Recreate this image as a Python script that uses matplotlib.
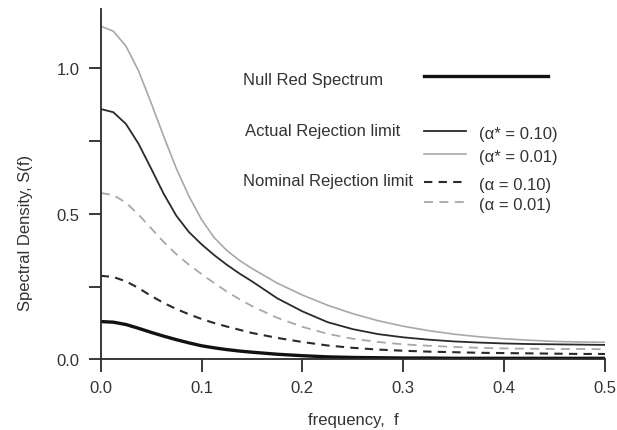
"""Red-noise spectrum with actual / nominal rejection limits."""
import matplotlib
matplotlib.use("Agg")
import matplotlib.pyplot as plt

# frequency grid the curves were read at (finer where the curves bend)
freq = [0.0, 0.0125, 0.025, 0.0375, 0.05, 0.0625, 0.075, 0.0875, 0.1,
        0.1125, 0.125, 0.1375, 0.15, 0.175, 0.2, 0.225, 0.25, 0.275, 0.3,
        0.325, 0.35, 0.375, 0.4, 0.425, 0.45, 0.475, 0.5]

null_red = [0.130, 0.128, 0.120, 0.107, 0.093, 0.080, 0.068, 0.057, 0.047,
            0.040, 0.034, 0.029, 0.025, 0.018, 0.013, 0.009, 0.007, 0.006,
            0.005, 0.005, 0.004, 0.004, 0.004, 0.004, 0.004, 0.004, 0.004]
actual_010 = [0.859, 0.848, 0.808, 0.740, 0.655, 0.568, 0.493, 0.437, 0.395,
              0.358, 0.325, 0.295, 0.268, 0.210, 0.165, 0.128, 0.104, 0.087,
              0.076, 0.068, 0.062, 0.058, 0.055, 0.053, 0.052, 0.051, 0.050]
actual_001 = [1.143, 1.126, 1.075, 0.990, 0.880, 0.765, 0.655, 0.560, 0.480,
              0.418, 0.374, 0.340, 0.312, 0.262, 0.221, 0.186, 0.157, 0.133,
              0.114, 0.099, 0.087, 0.078, 0.071, 0.066, 0.062, 0.060, 0.059]
nominal_010 = [0.287, 0.283, 0.268, 0.245, 0.218, 0.194, 0.173, 0.155, 0.139,
               0.125, 0.113, 0.102, 0.091, 0.074, 0.060, 0.048, 0.040, 0.034,
               0.030, 0.027, 0.025, 0.023, 0.022, 0.021, 0.020, 0.019, 0.019]
nominal_001 = [0.571, 0.564, 0.538, 0.497, 0.450, 0.403, 0.361, 0.325, 0.293,
               0.262, 0.233, 0.207, 0.183, 0.143, 0.112, 0.088, 0.071, 0.060,
               0.052, 0.047, 0.043, 0.040, 0.038, 0.037, 0.036, 0.036, 0.035]

x_ticks = [0.0, 0.1, 0.2, 0.3, 0.4, 0.5]
y_ticks = [0.0, 0.25, 0.5, 0.75, 1.0]
y_ticklabels = ["0.0", "", "0.5", "", "1.0"]

TXT = "#333333"
DARK = "#2a2a2a"
LIGHT = "#a8a8a8"

plt.rcParams["font.family"] = ["Liberation Sans", "DejaVu Sans"]

fig = plt.figure(figsize=(6.17, 4.31), dpi=100)
ax = fig.add_axes([0.1632, 0.1636, 0.8173, 0.8132])

ax.plot(freq, actual_001, color=LIGHT, lw=1.2)
ax.plot(freq, actual_010, color=DARK, lw=1.3)
ax.plot(freq, nominal_001, color=LIGHT, lw=1.3, dashes=(5, 3.5))
ax.plot(freq, nominal_010, color=DARK, lw=1.5, dashes=(4, 3))
ax.plot(freq, null_red, color="#111111", lw=2.4)

ax.set_xlim(0, 0.5)
ax.set_ylim(0, 1.202)
ax.set_xticks(x_ticks)
ax.set_xticklabels([f"{t:.1f}" for t in x_ticks])
ax.set_yticks(y_ticks)
ax.set_yticklabels(y_ticklabels)
for side in ("top", "right"):
    ax.spines[side].set_visible(False)
for side in ("left", "bottom"):
    ax.spines[side].set_color(DARK)
    ax.spines[side].set_linewidth(1.3)
ax.tick_params(length=9, width=1.3, color=DARK, labelcolor=TXT,
               labelsize=12, pad=6)

ax.set_xlabel("frequency,  f", fontsize=12, color=TXT, labelpad=12)
ax.set_ylabel("Spectral Density, S(f)", fontsize=12, color=TXT)
ax.yaxis.set_label_coords(-0.135, 0.365)

# hand-drawn legend, axes-fraction coordinates
tr = ax.transAxes
ax.text(0.282, 0.800, "Null Red Spectrum", transform=tr, fontsize=12,
        color=TXT, va="center")
ax.plot([0.641, 0.887], [0.809, 0.809], transform=tr, color="#111111",
        lw=2.4, clip_on=False)
ax.text(0.286, 0.652, "Actual Rejection limit", transform=tr, fontsize=12,
        color=TXT, va="center")
ax.text(0.282, 0.512, "Nominal Rejection limit", transform=tr, fontsize=12,
        color=TXT, va="center")

rows = [
    (0.652, DARK, 1.3, None, "(\u03b1* = 0.10)"),
    (0.586, LIGHT, 1.2, None, "(\u03b1* = 0.01)"),
    (0.506, DARK, 1.5, (4, 3), "(\u03b1 = 0.10)"),
    (0.449, LIGHT, 1.3, (5, 3.5), "(\u03b1 = 0.01)"),
]
for y, col, lw, dash, label in rows:
    kw = {"dashes": dash} if dash else {}
    ax.plot([0.641, 0.725], [y, y], transform=tr, color=col, lw=lw, **kw)
    ax.text(0.750, y - 0.006, label, transform=tr, fontsize=12, color=TXT,
            va="center")

fig.savefig("out.png", dpi=100)
